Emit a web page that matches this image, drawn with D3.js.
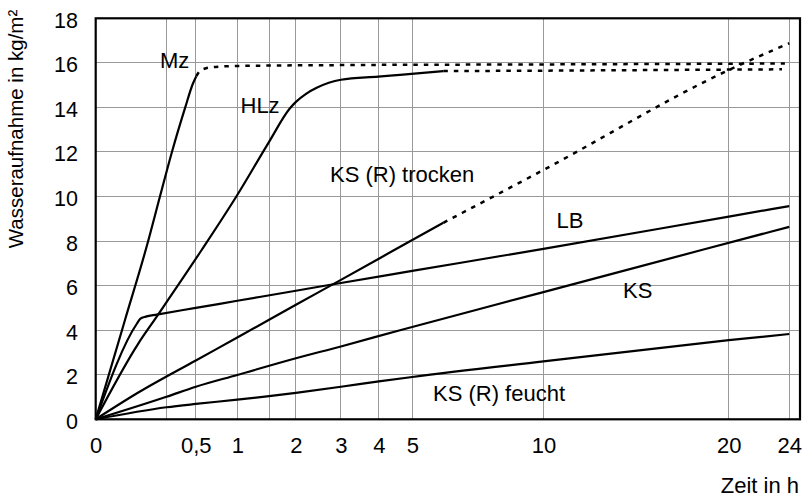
<!DOCTYPE html>
<html><head><meta charset="utf-8">
<script src="https://cdn.jsdelivr.net/npm/d3@7"></script>
<style>
html,body{margin:0;padding:0;background:#fff;}
svg{display:block;font-family:"Liberation Sans",Arial,Helvetica,sans-serif;}
</style></head><body>
<svg id="chart" width="805" height="497"></svg>
<script>
// ---- data (time in h, water uptake in kg/m²) ----
const xTicks = [0, 0.5, 1, 2, 3, 4, 5, 10, 20, 24];
const xTickLabels = ["0", "0,5", "1", "2", "3", "4", "5", "10", "20", "24"];
const xGridValues = [0.25, 0.5, 1, 1.5, 2, 3, 4, 5, 10, 20, 24];
const yTicks = [0, 2, 4, 6, 8, 10, 12, 14, 16, 18];
const labelTexts = ["Mz", "HLz", "KS (R) trocken", "LB", "KS", "KS (R) feucht"];

const mzMeasured = [[0,0],[0.0428,4.46],[0.131,7.8],[0.206,10],[0.29,12],[0.4,14],[0.47,15.05],[0.505,15.4]];
const mzExtrapolated = [[0.505,15.4],[0.535,15.6],[0.6,15.75],[0.75,15.83],[1,15.86],[3,15.9],[10,15.93],[23.7,15.97]];
const hlzMeasured = [[0,0],[0.0905,3.4],[0.1755,4.5],[0.56,7.6],[1,10.07],[1.487,12.4],[1.883,13.96],[2.0,14.25],[2.2,14.6],[2.436,14.88],[3.0,15.24],[3.983,15.38],[4.62,15.46],[6.03,15.63]];
const hlzExtrapolated = [[6.03,15.63],[10,15.65],[16,15.68],[23.5,15.71]];
const ksrTrockenMeasured = [[0,0],[0.0905,1.2],[0.5,2.64],[1,3.67],[2,5.14],[3,6.26],[4,7.21],[5,8.05],[6.03,8.82]];
const ksrTrockenExtrapolated = [[6.03,8.82],[10,11.19],[20,15.68],[24,16.88]];
const lbValues = [[0,0],[0.085,4.3],[0.1,4.52],[0.125,4.61],[0.186,4.7],[0.5,5.0],[1,5.32],[2,5.77],[3,6.12],[5,6.66],[10,7.65],[20,9.1],[24,9.57]];
const ksValues = [[0,0],[0.25,1.01],[0.5,1.46],[1,1.99],[2,2.74],[3,3.27],[4.62,4.0],[10,5.71],[18.43,7.62],[24,8.64]];
const ksrFeuchtValues = [[0,0],[0.25,0.54],[0.5,0.69],[1,0.88],[1.5,1.04],[2,1.19],[3,1.46],[4,1.7],[5,1.9],[10,2.6],[20,3.55],[24,3.83]];

// ---- layout ----
const plotLeft = 95.7, plotRight = 800, plotTop = 18.3, plotBottom = 419.3;
const svg = d3.select("#chart");
const x = d3.scaleSqrt().domain([0, 24.75]).range([plotLeft, plotRight]);
const y = d3.scaleLinear().domain([0, 18]).range([plotBottom, plotTop]);

// grid
const grid = svg.append("g").attr("stroke", "#9a9a9a").attr("stroke-width", 1).attr("shape-rendering", "crispEdges");
grid.selectAll("line.v").data(xGridValues).join("line").attr("class", "v")
  .attr("x1", d => x(d)).attr("x2", d => x(d)).attr("y1", plotTop).attr("y2", plotBottom);
grid.selectAll("line.h").data(yTicks.slice(1, -1)).join("line").attr("class", "h")
  .attr("x1", plotLeft).attr("x2", plotRight).attr("y1", d => y(d)).attr("y2", d => y(d));

// curves
const line = d3.line().x(d => x(d[0])).y(d => y(d[1])).curve(d3.curveMonotoneX);
const solids = [mzMeasured, hlzMeasured, ksrTrockenMeasured, lbValues, ksValues, ksrFeuchtValues];
const dashed = [mzExtrapolated, hlzExtrapolated, ksrTrockenExtrapolated];
svg.append("g").selectAll("path").data(solids).join("path")
  .attr("d", line).attr("fill", "none").attr("stroke", "#000").attr("stroke-width", 2.2)
  .attr("stroke-linejoin", "round").attr("stroke-linecap", "butt");
svg.append("g").selectAll("path").data(dashed).join("path")
  .attr("d", line).attr("fill", "none").attr("stroke", "#000").attr("stroke-width", 2.5)
  .attr("stroke-dasharray", "4.5,6");

// frame
svg.append("rect").attr("x", plotLeft).attr("y", plotTop).attr("width", plotRight - plotLeft).attr("height", plotBottom - plotTop)
  .attr("fill", "none").attr("stroke", "#000").attr("stroke-width", 2.2);

// axes
const xAxis = d3.axisBottom(x).tickValues(xTicks).tickFormat((d, i) => xTickLabels[i]).tickSize(0);
const gx = svg.append("g").attr("transform", `translate(0,${plotBottom})`).call(xAxis);
gx.select(".domain").remove();
gx.selectAll("text").attr("y", 34.2).attr("dy", 0)
  .attr("font-size", 22).attr("font-family", "Liberation Sans, Arial, sans-serif").attr("fill", "#000");

const yAxis = d3.axisLeft(y).tickValues(yTicks).tickSize(0);
const gy = svg.append("g").attr("transform", `translate(${plotLeft},0)`).call(yAxis);
gy.select(".domain").remove();
gy.selectAll("text").attr("x", 78 - plotLeft).attr("dy", 9)
  .attr("font-size", 21.5).attr("font-family", "Liberation Sans, Arial, sans-serif").attr("fill", "#000");

// axis titles
svg.append("text").attr("transform", "translate(23,129) rotate(-90)").attr("text-anchor", "middle")
  .attr("font-size", 20.5).text("Wasseraufnahme in kg/m²");
svg.append("text").attr("x", 799).attr("y", 493).attr("text-anchor", "end")
  .attr("font-size", 22).text("Zeit in h");

// curve labels (pixel anchors, start of text / baseline)
const labelPos = [[160, 68], [240.5, 113], [330, 181.5], [556.5, 228], [623, 298], [433, 401]];
svg.append("g").selectAll("text").data(labelTexts).join("text")
  .attr("x", (d, i) => labelPos[i][0]).attr("y", (d, i) => labelPos[i][1])
  .attr("font-size", 22).text(d => d);
</script>
</body></html>
